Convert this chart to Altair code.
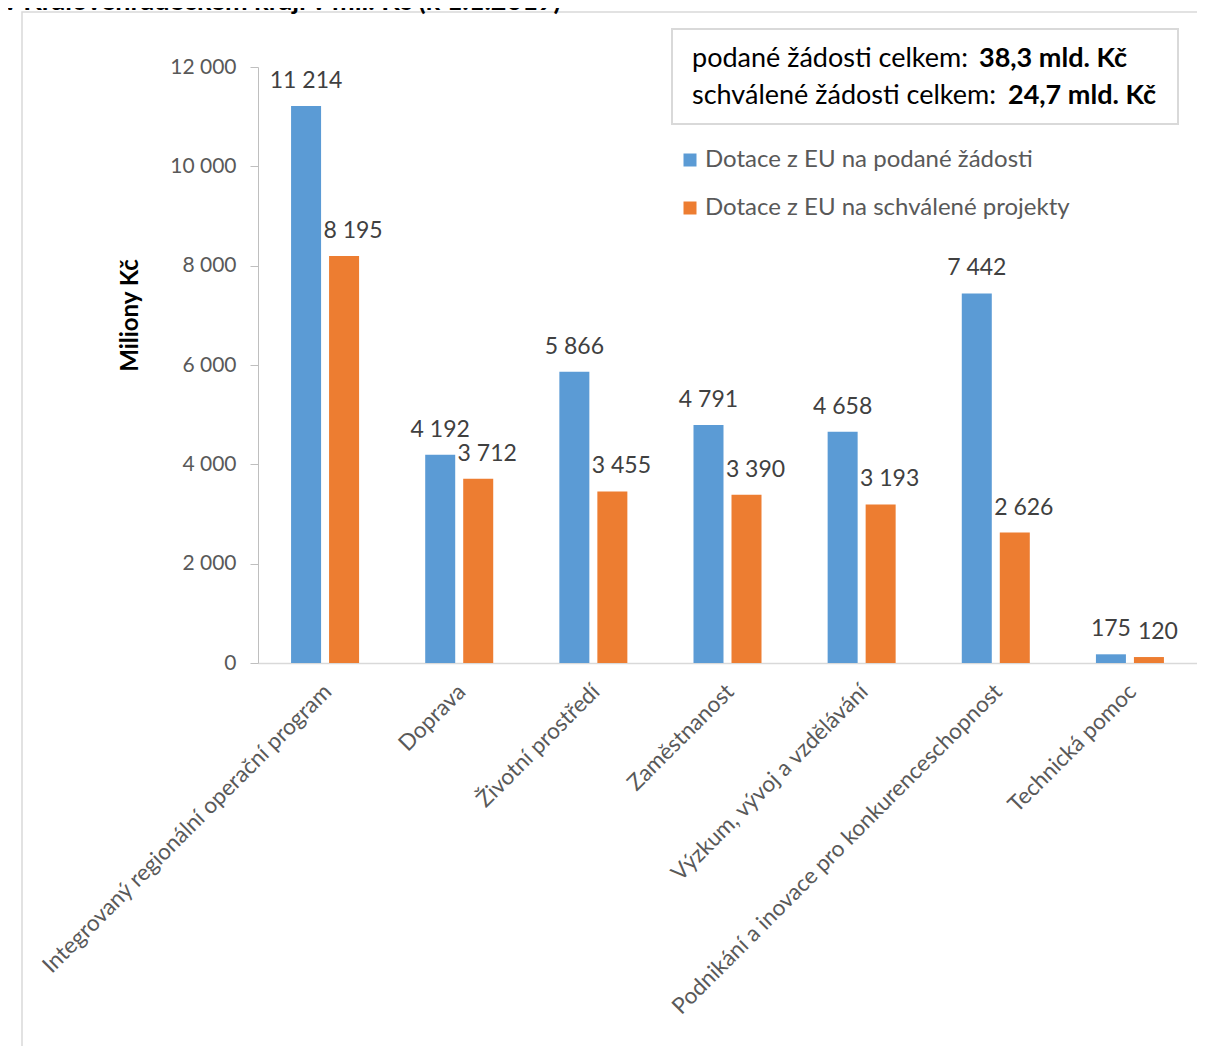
import altair as alt
import pandas as pd

categories = [
    "Integrovaný regionální operační program",
    "Doprava",
    "Životní prostředí",
    "Zaměstnanost",
    "Výzkum, vývoj a vzdělávání",
    "Podnikání a inovace pro konkurenceschopnost",
    "Technická pomoc",
]
series_names = ["Dotace z EU na podané žádosti", "Dotace z EU na schválené projekty"]
podane = [11214, 4192, 5866, 4791, 4658, 7442, 175]
schvalene = [8195, 3712, 3455, 3390, 3193, 2626, 120]
colors = ["#5B9BD5", "#ED7D31"]
y_ticks = [0, 2000, 4000, 6000, 8000, 10000, 12000]

title_text = "v Královéhradeckém kraji v mil. Kč (k 1.1.2019)"
box_line1 = ["podané žádosti celkem:", "38,3 mld. Kč"]
box_line2 = ["schválené žádosti celkem:", "24,7 mld. Kč"]

rows = []
for c, a, b in zip(categories, podane, schvalene):
    rows.append({"kategorie": c, "serie": series_names[0], "hodnota": a})
    rows.append({"kategorie": c, "serie": series_names[1], "hodnota": b})
df = pd.DataFrame(rows)

FONT = "Lato"

x_enc = alt.X(
    "kategorie:N",
    sort=categories,
    title=None,
    scale=alt.Scale(paddingInner=0.493, paddingOuter=0.2465),
    axis=alt.Axis(
        labelAngle=-45, labelFontSize=22.5, labelColor="#595959", labelFont=FONT,
        ticks=False, domainColor="#d9d9d9", domainWidth=1.5, labelPadding=17,
        labelOffset=-5, labelLimit=1000,
    ),
)
y_enc = alt.Y(
    "hodnota:Q",
    title="Miliony Kč",
    scale=alt.Scale(domain=[0, 12000], nice=False),
    axis=alt.Axis(
        values=y_ticks, grid=False, domainColor="#bfbfbf", tickColor="#bfbfbf",
        tickSize=8, labelPadding=14, labelFontSize=21, labelColor="#595959",
        labelFont=FONT,
        labelExpr="replace(format(datum.value, ','), ',', ' ')",
        titleFont=FONT, titleFontSize=24, titleFontWeight="bold", titleColor="#000000",
        titleX=-128, titleY=248, titleAlign="center", titleBaseline="middle", titleAngle=-90,
    ),
)
xoff = alt.XOffset("serie:N", sort=series_names, scale=alt.Scale(paddingInner=0.2105))

bars = alt.Chart(df).mark_bar().encode(
    x=x_enc,
    y=y_enc,
    xOffset=xoff,
    color=alt.Color(
        "serie:N",
        sort=series_names,
        scale=alt.Scale(domain=series_names, range=colors),
        legend=alt.Legend(
            title=None, orient="none", legendX=420, legendY=81,
            symbolType="square", symbolSize=169, symbolStrokeWidth=0,
            labelFontSize=24, labelColor="#595959", labelFont=FONT,
            rowPadding=24, labelOffset=3, labelLimit=1000,
        ),
    ),
)

def value_labels(series, dx):
    return alt.Chart(df).transform_filter(
        alt.datum.serie == series
    ).transform_calculate(
        lbl="replace(format(datum.hodnota, ','), ',', ' ')"
    ).mark_text(
        baseline="bottom", dy=-13, dx=dx, fontSize=23, color="#404040", font=FONT
    ).encode(
        x=x_enc,
        y=y_enc,
        xOffset=xoff,
        text=alt.Text("lbl:N"),
    )

labels_a = value_labels(series_names[0], 0)
labels_b = value_labels(series_names[1], 9)

one = pd.DataFrame({"a": [0]})

frame = alt.Chart(one).mark_rect(
    fill="white", fillOpacity=0, stroke="#d9d9d9", strokeWidth=1.5
).encode(x=alt.value(-236), x2=alt.value(1200), y=alt.value(-55), y2=alt.value(1200))

box = alt.Chart(one).mark_rect(
    fill="white", stroke="#d9d9d9", strokeWidth=2
).encode(x=alt.value(414), x2=alt.value(920), y=alt.value(-38), y2=alt.value(57))

def txt(s, x, y, bold=False, align="left", size=27):
    return alt.Chart(pd.DataFrame({"t": [s]})).mark_text(
        align=align, baseline="middle", fontSize=size, font=FONT,
        fontWeight="bold" if bold else "normal", color="#000000",
    ).encode(x=alt.value(x), y=alt.value(y), text="t:N")

t1a = txt(box_line1[0], 434, -8)
t1b = txt(box_line1[1], 869, -8, bold=True, align="right")
t2a = txt(box_line2[0], 434, 29)
t2b = txt(box_line2[1], 898, 29, bold=True, align="right")

title = alt.Chart(pd.DataFrame({"t": [title_text]})).mark_text(
    align="left", baseline="alphabetic", fontSize=27, font=FONT, fontWeight="bold",
    color="#000000",
).encode(x=alt.value(-255), y=alt.value(-57.5), text="t:N")

chart = alt.layer(
    frame, bars, labels_a, labels_b, box, t1a, t1b, t2a, t2b, title
).properties(
    width=939, height=596,
    autosize=alt.AutoSizeParams(type="none"),
    padding={"left": 250, "top": 59, "right": 0, "bottom": 383},
    background="white",
).configure_view(stroke=None)

chart.save("out.html", embed_options={"renderer": "svg", "actions": False})
